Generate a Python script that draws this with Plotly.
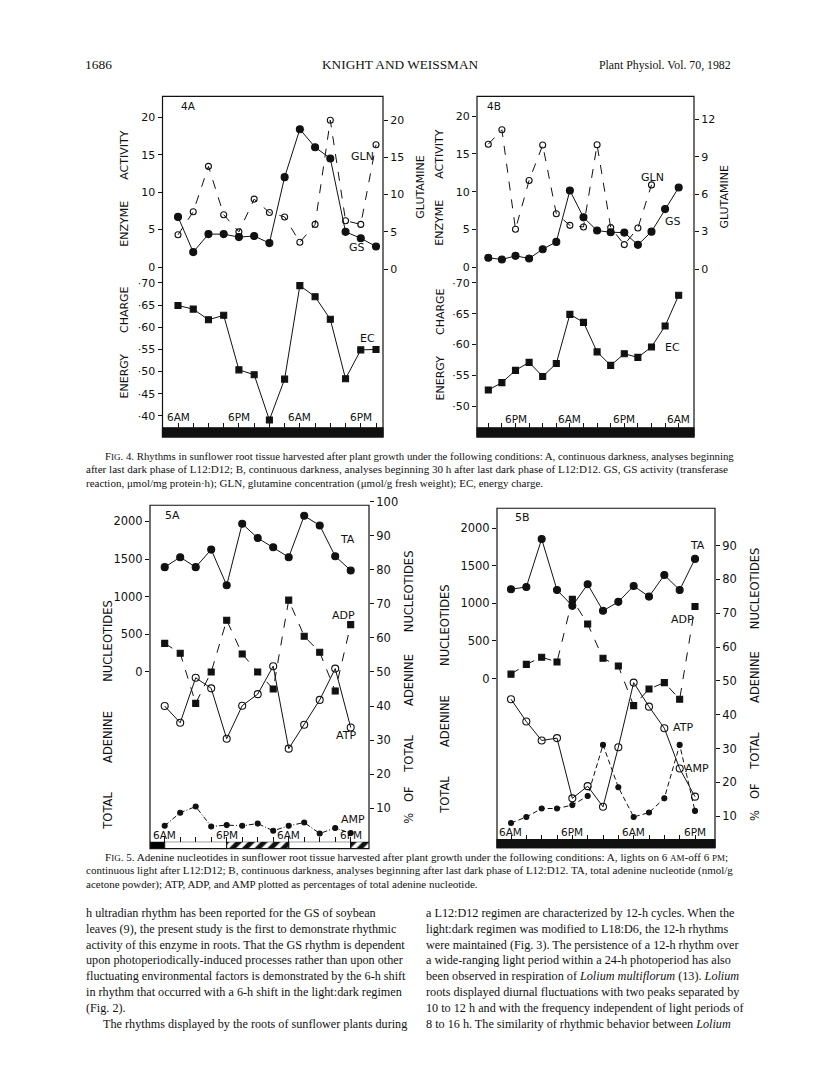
import plotly.graph_objects as go

PAGE_W, PAGE_H = 816, 1073
OFF = 8  # default body margin of the html page
W, H = PAGE_W - 2 * OFF, PAGE_H - 2 * OFF
SANS = "DejaVu Sans"
SERIF = "Liberation Serif"
INK = "#111111"

# ---------------- data ----------------
# Fig. 4A : hours after 6 AM, 3-h sampling
hours_4a = [0, 3, 6, 9, 12, 15, 18, 21, 24, 27, 30, 33, 36, 39]
gs_4a = [6.7, 2.0, 4.4, 4.4, 4.0, 4.15, 3.2, 12.0, 18.4, 16.0, 14.5, 4.7, 3.85, 2.75]
gln_4a = [4.6, 7.7, 13.8, 7.3, 5.0, 9.4, 7.6, 7.0, 3.6, 6.0, 20.0, 6.5, 6.0, 16.7]
ec_4a = [0.649, 0.641, 0.617, 0.627, 0.504, 0.493, 0.391, 0.483, 0.694, 0.669, 0.618, 0.484, 0.549, 0.550]
time_ticks_4a = [0, 12, 24, 36]
time_labels_4a = ["6AM", "6PM", "6AM", "6PM"]

# Fig. 4B : hours after noon, 3-h sampling
hours_4b = [0, 3, 6, 9, 12, 15, 18, 21, 24, 27, 30, 33, 36, 39, 42]
gs_4b = [1.23, 1.01, 1.49, 1.14, 2.37, 3.34, 10.15, 6.59, 4.84, 4.62, 4.57, 2.95, 4.70, 7.69, 10.55]
hours_gln_4b = [0, 3, 6, 9, 12, 15, 18, 21, 24, 27, 30, 33, 36]
gln_4b = [10.0, 11.15, 3.19, 7.09, 9.93, 4.43, 3.50, 3.37, 9.95, 3.32, 1.96, 3.29, 6.74]
ec_4b = [0.526, 0.538, 0.558, 0.571, 0.548, 0.569, 0.649, 0.636, 0.588, 0.566, 0.585, 0.579, 0.596, 0.630, 0.680]
time_ticks_4b = [6, 18, 30, 42]
time_labels_4b = ["6PM", "6AM", "6PM", "6AM"]

# Fig. 5A : hours after 6 AM
hours_5a = [0, 3, 6, 9, 12, 15, 18, 21, 24, 27, 30, 33, 36]
ta_5a = [1393, 1525, 1393, 1626, 1152, 1969, 1780, 1657, 1525, 2075, 1947, 1538, 1349]
adp_5a = [58.4, 55.5, 40.8, 50.0, 65.2, 55.3, 50.0, 45.0, 71.1, 60.5, 55.8, 44.4, 63.9]
atp_5a = [40.0, 35.1, 48.3, 45.2, 30.4, 40.1, 43.5, 51.7, 27.5, 34.5, 41.8, 51.0, 33.7]
amp_5a = [4.85, 8.7, 10.5, 4.65, 5.05, 4.85, 5.5, 3.4, 4.85, 5.8, 2.6, 4.2, 2.7]
time_ticks_5a = [0, 12, 24, 36]
time_labels_5a = ["6AM", "6PM", "6AM", "6PM"]
phase_start_5a = [-6, 0, 12, 24, 36]
phase_end_5a = [0, 12, 24, 36, 48]
phase_kind_5a = ["dark", "light", "subjective dark", "light", "subjective dark"]

# Fig. 5B : hours after 6 AM
hours_5b = [0, 3, 6, 9, 12, 15, 18, 21, 24, 27, 30, 33, 36]
ta_5b = [1187, 1218, 1855, 1178, 967, 1253, 901, 1020, 1231, 1090, 1376, 1178, 1591]
adp_5b = [52.0, 54.9, 57.0, 55.6, 74.1, 66.8, 56.7, 54.4, 42.7, 47.6, 49.5, 44.6, 72.0]
atp_5b = [44.6, 38.0, 32.4, 33.1, 15.3, 18.9, 12.8, 30.4, 49.5, 42.4, 36.0, 24.1, 15.8]
amp_5b = [8.0, 9.8, 12.3, 12.3, 13.3, 16.0, 31.1, 18.6, 9.8, 11.1, 15.3, 31.1, 11.6]
time_ticks_5b = [0, 12, 24, 36]
time_labels_5b = ["6AM", "6PM", "6AM", "6PM"]

gs_ticks = [0, 5, 10, 15, 20]
gln_ticks_4a = [0, 5, 10, 15, 20]
gln_ticks_4b = [0, 3, 6, 9, 12]
ec_ticks_4a = [0.40, 0.45, 0.50, 0.55, 0.60, 0.65, 0.70]
ec_ticks_4b = [0.50, 0.55, 0.60, 0.65, 0.70]
ta_ticks = [0, 500, 1000, 1500, 2000]
pct_ticks_5a = [10, 20, 30, 40, 50, 60, 70, 80, 90, 100]
pct_ticks_5b = [10, 20, 30, 40, 50, 60, 70, 80, 90]


# ---------------- helpers (page pixels -> paper) ----------------
def X(px):
    return (px - OFF) / W


def Y(py):
    return 1 - (py - OFF) / H


def vrange(v1, p1, v2, p2, top, bottom):
    k = (v2 - v1) / (p2 - p1)
    return [v1 + (bottom - p1) * k, v1 + (top - p1) * k]


def hrange(h0px, pxh, left, right):
    return [(left - h0px) / pxh, (right - h0px) / pxh]


def ec_text(v):
    return "\u00b7" + str(int(round(v * 100)))


def yaxis(top, bottom, rng, tickvals, side="left", anchor=None, overlaying=None,
          ticktext=None, size=11):
    d = dict(domain=[Y(bottom), Y(top)], range=rng, tickmode="array",
             tickvals=tickvals, ticks="outside", ticklen=4, tickwidth=1,
             tickcolor=INK, showgrid=False, zeroline=False, showline=False,
             tickfont=dict(family=SANS, size=size, color=INK), side=side,
             anchor=anchor, fixedrange=True)
    if ticktext is not None:
        d["ticktext"] = ticktext
    if overlaying:
        d["overlaying"] = overlaying
    return d


def xaxis(left, right, rng, anchor, tickvals=None, visible=True, matches=None):
    d = dict(domain=[X(left), X(right)], range=rng, anchor=anchor,
             showgrid=False, zeroline=False, showline=False,
             showticklabels=False, fixedrange=True)
    if tickvals is not None:
        d.update(tickmode="array", tickvals=tickvals, ticks="inside", ticklen=5,
                 tickwidth=1, tickcolor=INK)
    else:
        d.update(ticks="")
    if not visible:
        d["visible"] = False
    if matches:
        d["matches"] = matches
    return d


fig = go.Figure()


def line(x, y, xa, ya, symbol, size, dash="solid"):
    fig.add_trace(go.Scatter(
        x=x, y=y, xaxis=xa, yaxis=ya, mode="lines+markers",
        line=dict(color=INK, width=1, dash=dash),
        marker=dict(symbol=symbol, size=size, color=INK,
                    line=dict(color=INK, width=1.1)),
        cliponaxis=False, hoverinfo="skip"))


# ---------- Fig 4A ----------
L4A, R4A = 162.5, 383
xr4a = hrange(178, 5.077, L4A, R4A)
layout = {}
layout["xaxis"] = xaxis(L4A, R4A, xr4a, "y", visible=False)
layout["yaxis"] = yaxis(90, 270, vrange(0, 262, 20, 111, 90, 270), gs_ticks, anchor="x")
layout["yaxis2"] = yaxis(90, 270, vrange(0, 264, 20, 114, 90, 270), gln_ticks_4a,
                         side="right", anchor="x", overlaying="y")
layout["xaxis2"] = xaxis(L4A, R4A, xr4a, "y3", tickvals=hours_4a)
layout["yaxis3"] = yaxis(270, 424, vrange(0.70, 278, 0.40, 412, 270, 424), ec_ticks_4a,
                         anchor="x2", ticktext=[ec_text(v) for v in ec_ticks_4a])
line(hours_4a, gln_4a, "x", "y2", "circle-open", 6, "dash")
line(hours_4a, gs_4a, "x", "y", "circle", 7)
line(hours_4a, ec_4a, "x2", "y3", "square", 6)

# ---------- Fig 4B ----------
L4B, R4B = 477, 694
xr4b = hrange(488.3, 4.533, L4B, R4B)
layout["xaxis3"] = xaxis(L4B, R4B, xr4b, "y4", visible=False)
layout["yaxis4"] = yaxis(90, 270, vrange(0, 262, 20, 110, 90, 270), gs_ticks, anchor="x3")
layout["yaxis5"] = yaxis(90, 270, vrange(0, 264, 12, 113, 90, 270), gln_ticks_4b,
                         side="right", anchor="x3", overlaying="y4")
layout["xaxis4"] = xaxis(L4B, R4B, xr4b, "y6", tickvals=hours_4b)
layout["yaxis6"] = yaxis(270, 424, vrange(0.70, 278, 0.50, 402, 270, 424), ec_ticks_4b,
                         anchor="x4", ticktext=[ec_text(v) for v in ec_ticks_4b])
line(hours_gln_4b, gln_4b, "x3", "y5", "circle-open", 6, "dash")
line(hours_4b, gs_4b, "x3", "y4", "circle", 7)
line(hours_4b, ec_4b, "x4", "y6", "square", 6)

# ---------- Fig 5A ----------
L5A, R5A = 150, 369
xr5a = hrange(164.7, 5.167, L5A, R5A)
layout["xaxis5"] = xaxis(L5A, R5A, xr5a, "y7", tickvals=hours_5a)
layout["yaxis7"] = yaxis(498, 841, vrange(0, 670, 2000, 518.3, 498, 841), ta_ticks,
                         anchor="x5", size=11.5)
layout["yaxis8"] = yaxis(498, 841, vrange(50, 670, 10, 807.3, 498, 841), pct_ticks_5a,
                         side="right", anchor="x5", overlaying="y7", size=11.5)
layout["xaxis6"] = xaxis(L5A, R5A, xr5a, "y9", visible=False, matches="x5")
layout["yaxis9"] = dict(domain=[Y(848), Y(841)], range=[-0.5, 0.5], visible=False,
                        anchor="x6", fixedrange=True)
line(hours_5a, amp_5a, "x5", "y8", "circle", 5, "5px,2px,1px,2px")
line(hours_5a, adp_5a, "x5", "y8", "square", 6, "dash")
line(hours_5a, atp_5a, "x5", "y8", "circle-open", 7)
line(hours_5a, ta_5a, "x5", "y7", "circle", 7)

# light regime strip for 5A
for kind, color, pat in [("dark", "black", ""), ("light", "white", ""),
                         ("subjective dark", "white", "/")]:
    idx = [i for i, k in enumerate(phase_kind_5a) if k == kind]
    fig.add_trace(go.Bar(
        x=[phase_end_5a[i] - phase_start_5a[i] for i in idx],
        base=[phase_start_5a[i] for i in idx],
        y=[0] * len(idx), orientation="h", width=1,
        xaxis="x6", yaxis="y9",
        marker=dict(color=color, line=dict(color=INK, width=1),
                    pattern=dict(shape=pat, fgcolor=INK, bgcolor="white",
                                 size=9, solidity=0.55, fillmode="replace")),
        hoverinfo="skip"))

# ---------- Fig 5B ----------
L5B, R5B = 497, 715
xr5b = hrange(511, 5.111, L5B, R5B)
layout["xaxis7"] = xaxis(L5B, R5B, xr5b, "y10", tickvals=hours_5b)
layout["yaxis10"] = yaxis(505, 839, vrange(0, 676.7, 2000, 525, 505, 839), ta_ticks,
                          anchor="x7", size=11.5)
layout["yaxis11"] = yaxis(505, 839, vrange(50, 679, 10, 815.4, 505, 839), pct_ticks_5b,
                          side="right", anchor="x7", overlaying="y10", size=11.5)
line(hours_5b, amp_5b, "x7", "y11", "circle", 5, "5px,3px")
line(hours_5b, adp_5b, "x7", "y11", "square", 6, "dash")
line(hours_5b, atp_5b, "x7", "y11", "circle-open", 7)
line(hours_5b, ta_5b, "x7", "y10", "circle", 7)

# ---------- frames and dark bars ----------
shapes = []


def rect(l, t, r, b, fill=None, w=1.2):
    shapes.append(dict(type="rect", xref="paper", yref="paper",
                       x0=X(l), x1=X(r), y0=Y(b), y1=Y(t),
                       line=dict(color=INK, width=w),
                       fillcolor=fill if fill else "rgba(0,0,0,0)", layer="above"))


rect(L4A, 90, R4A, 433)
rect(L4A, 424, R4A, 433, fill=INK)
rect(L4B, 90, R4B, 433)
rect(L4B, 424, R4B, 433, fill=INK)
rect(L5A, 502, R5A, 848)
rect(L5B, 505, R5B, 847)
rect(L5B, 839, R5B, 847, fill=INK)

# ---------- annotations ----------
ann = []


def txt(px, py, s, size=11, family=SANS, angle=0, xanchor="center", yanchor="middle"):
    ann.append(dict(x=X(px), y=Y(py), xref="paper", yref="paper", text=s,
                    showarrow=False, textangle=angle, xanchor=xanchor,
                    yanchor=yanchor, font=dict(family=family, size=size, color=INK)))


def time_labels(xa, ticks, labels, py, size=10.5):
    for t, lab in zip(ticks, labels):
        ann.append(dict(x=t, y=Y(py), xref=xa, yref="paper", text=lab,
                        showarrow=False, xanchor="center", yanchor="middle",
                        font=dict(family=SANS, size=size, color=INK)))


NB = "\u00a0"

# panel labels
txt(188, 100, "4A", 10.5)
txt(362, 151, "GLN", 11)
txt(357, 242, "GS", 11)
txt(367, 334, "EC", 11)
txt(494, 100, "4B", 10.5)
txt(652, 172, "GLN", 11)
txt(673, 216, "GS", 11)
txt(672, 343, "EC", 11)
txt(172, 512, "5A", 11)
txt(347, 537, "TA", 11)
txt(343, 613, "ADP", 11)
txt(346, 734, "ATP", 11)
txt(353, 819, "AMP", 11)
txt(522, 514, "5B", 11)
txt(697, 543, "TA", 11)
txt(682, 617, "ADP", 11)
txt(683, 726, "ATP", 11)
txt(697, 767, "AMP", 11)

# axis titles
txt(125, 183, "ENZYME" + NB * 6 + "ACTIVITY", 11, angle=-90)
txt(125, 338, "ENERGY" + NB * 6 + "CHARGE", 11, angle=-90)
txt(421, 181, "GLUTAMINE", 11, angle=-90)
txt(440, 182, "ENZYME" + NB * 6 + "ACTIVITY", 11, angle=-90)
txt(440, 340, "ENERGY" + NB * 6 + "CHARGE", 11, angle=-90)
txt(725, 191, "GLUTAMINE", 11, angle=-90)
txt(108, 714, "TOTAL" + NB * 8 + "ADENINE" + NB * 8 + "NUCLEOTIDES", 11.5, angle=-90)
txt(409, 686, "%" + NB * 3 + "OF" + NB * 4 + "TOTAL" + NB * 8 + "ADENINE" + NB * 6 + "NUCLEOTIDES", 11.5, angle=-90)
txt(445, 698, "TOTAL" + NB * 8 + "ADENINE" + NB * 8 + "NUCLEOTIDES", 11.5, angle=-90)
txt(755, 683, "%" + NB * 3 + "OF" + NB * 4 + "TOTAL" + NB * 8 + "ADENINE" + NB * 6 + "NUCLEOTIDES", 11.5, angle=-90)

time_labels("x2", time_ticks_4a, time_labels_4a, 413)
time_labels("x4", time_ticks_4b, time_labels_4b, 415)
time_labels("x5", time_ticks_5a, time_labels_5a, 834)
time_labels("x7", time_ticks_5b, time_labels_5b, 831)

# header
txt(83, 58, "1686", 13.5, SERIF, xanchor="left")
txt(400, 58, "KNIGHT AND WEISSMAN", 13.3, SERIF)
txt(733, 58, "Plant Physiol. Vol. 70, 1982", 11.8, SERIF, xanchor="right")

SC = "<span style='font-size:9px'>"
cap4 = [
    (103, 452, 10.8, "F" + SC + "IG</span>. 4. Rhythms in sunflower root tissue harvested after plant growth under the following conditions: A, continuous darkness, analyses beginning"),
    (84, 466, 11.1, "after last dark phase of L12:D12; B, continuous darkness, analyses beginning 30 h after last dark phase of L12:D12. GS, GS activity (transferase"),
    (84, 480, 11.0, "reaction, μmol/mg protein·h); GLN, glutamine concentration (μmol/g fresh weight); EC, energy charge."),
]
cap5 = [
    (103, 856, 11.1, "F" + SC + "IG</span>. 5. Adenine nucleotides in sunflower root tissue harvested after plant growth under the following conditions: A, lights on 6 " + SC + "AM</span>-off 6 " + SC + "PM</span>;"),
    (84, 870, 11.0, "continuous light after L12:D12; B, continuous darkness, analyses beginning after last dark phase of L12:D12. TA, total adenine nucleotide (nmol/g"),
    (84, 884, 11.0, "acetone powder); ATP, ADP, and AMP plotted as percentages of total adenine nucleotide."),
]
for px, py, sz, s in cap4 + cap5:
    txt(px, py, s, sz, SERIF, xanchor="left")

body_left = [
    "h ultradian rhythm has been reported for the GS of soybean",
    "leaves (9), the present study is the first to demonstrate rhythmic",
    "activity of this enzyme in roots. That the GS rhythm is dependent",
    "upon photoperiodically-induced processes rather than upon other",
    "fluctuating environmental factors is demonstrated by the 6-h shift",
    "in rhythm that occurred with a 6-h shift in the light:dark regimen",
    "(Fig. 2).",
    "The rhythms displayed by the roots of sunflower plants during",
]
body_right = [
    "a L12:D12 regimen are characterized by 12-h cycles. When the",
    "light:dark regimen was modified to L18:D6, the 12-h rhythms",
    "were maintained (Fig. 3). The persistence of a 12-h rhythm over",
    "a wide-ranging light period within a 24-h photoperiod has also",
    "been observed in respiration of <i>Lolium multiflorum</i> (13). <i>Lolium</i>",
    "roots displayed diurnal fluctuations with two peaks separated by",
    "10 to 12 h and with the frequency independent of light periods of",
    "8 to 16 h. The similarity of rhythmic behavior between <i>Lolium</i>",
]
for i, s in enumerate(body_left):
    txt(101 if i == 7 else 84, 913 + 15.9 * i, s, 12.2, SERIF, xanchor="left")
for i, s in enumerate(body_right):
    txt(424, 913 + 15.9 * i, s, 12.2, SERIF, xanchor="left")

fig.update_layout(
    width=W, height=H, autosize=False,
    margin=dict(l=0, r=0, t=0, b=0, pad=0),
    paper_bgcolor="white", plot_bgcolor="rgba(0,0,0,0)",
    showlegend=False, barmode="overlay",
    shapes=shapes, annotations=ann,
    **layout,
)

fig.write_html("out.html", config={"displayModeBar": False, "staticPlot": True})
